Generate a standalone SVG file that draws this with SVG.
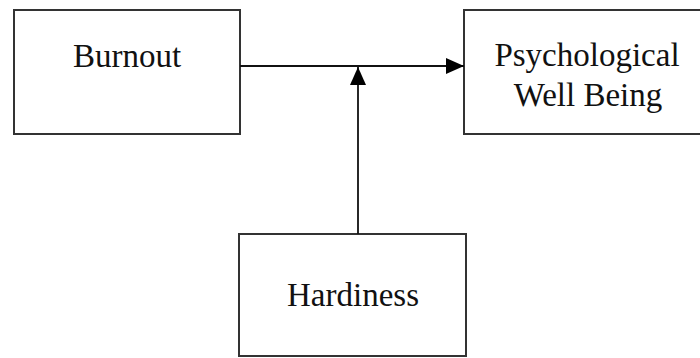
<svg xmlns="http://www.w3.org/2000/svg" width="700" height="358" viewBox="0 0 700 358">
<style>
.box{fill:#fff;stroke:#333;stroke-width:2}
.lbl{font-family:"Liberation Serif","Times New Roman",serif;font-size:33px;fill:#111;text-anchor:middle}
.conn{stroke:#111;stroke-width:1.8;fill:none}
</style>
<defs>
<marker id="ah" viewBox="0 0 18 16" refX="18" refY="8" markerWidth="18" markerHeight="16" markerUnits="userSpaceOnUse" orient="auto">
<path d="M0,0 L18,8 L0,16 Z" fill="#000"/>
</marker>
</defs>
<rect width="700" height="358" fill="#fff"/>
<g id="burnout">
<rect class="box" x="14" y="10" width="226" height="124"/>
<text class="lbl" x="127" y="67">Burnout</text>
</g>
<g id="psychological-well-being">
<rect class="box" x="464" y="10" width="248" height="124"/>
<text class="lbl" x="587" y="66">Psychological</text>
<text class="lbl" x="588" y="106">Well Being</text>
</g>
<g id="hardiness">
<rect class="box" x="239" y="234" width="227" height="122"/>
<text class="lbl" x="353" y="306">Hardiness</text>
</g>
<g id="connectors">
<line class="conn" x1="240" y1="66" x2="464" y2="66" marker-end="url(#ah)"/>
<line class="conn" x1="358" y1="234" x2="358" y2="67" marker-end="url(#ah)"/>
</g>
</svg>
